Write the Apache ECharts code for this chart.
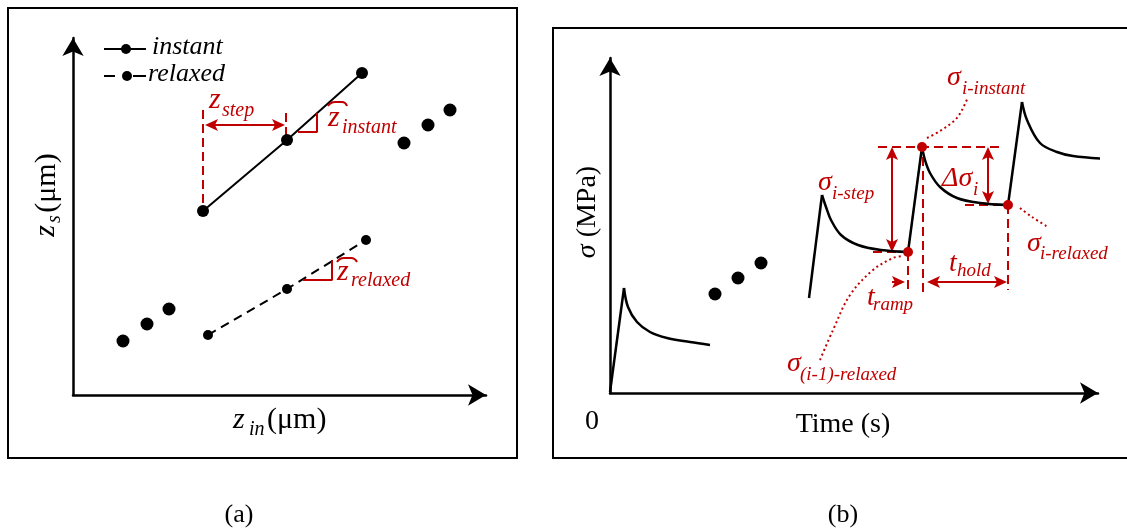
<!DOCTYPE html>
<html><head><meta charset="utf-8">
<script src="https://cdn.jsdelivr.net/npm/echarts@6/dist/echarts.min.js"></script>
<style>html,body{margin:0;padding:0;background:#fff}#c{width:1127px;height:532px}</style>
</head><body><div id="c"></div>
<script>
// ---------- Panel (a): z_s vs z_in (schematic units) ----------
const instantLine = [[130,184],[214,255],[289,322]];
const instantMore = [[331,252],[355,270],[377,285]];
const relaxedLine = [[135,60],[214,106],[293,155]];
const relaxedPrev = [[50,54],[74,71],[96,86]];
const legendInstantLine = [[31,346],[73,346]];
const legendInstantDot = [[53,346]];
const legendRelaxedLine = [[31,319],[42,319],'-',[60,319],[73,319]];
const legendRelaxedDot = [[54,319]];
const zStepGuides = [[130,285,130,184],[213,282,213,255]];
const zStepArrow = [[132,270,212,270,1,1]];
const instantAngle = [[225,263],[244,263],[244,282]];
const relaxedAngle = [[230,115],[259,115],[259,135]];
const instantArc = [[255,289],[262,293],[269,293],[274,289]];
const relaxedArc = [[264,133],[271,137],[278,137],[284,133]];

// ---------- Panel (b): stress vs time (schematic units) ----------
const curve1 = [[0,1],[14,105],[18,86],[27,71],[40,61],[57,55],[80,51],[100,48]];
const curve2 = [[199,95],[212,198],[216,186],[221,173],[231,158],[248,148],[271,143],[298,141]];
const curve3 = [[298,141],[312,246],[315,233],[320,220],[330,206],[347,195],[370,190],[398,188]];
const curve4 = [[398,188],[412,291],[417,273],[430,250],[447,241],[463,237],[497,234]];
const gapDots = [[105,99],[128,115],[151,130]];
const keyPoints = [[298,141],[312,246],[398,188]];
const guideLinesB = [[268,246,392,246],[263,141,298,141],[355,188,398,188],[298,141,298,100],[313,236,313,100],[398,188,398,103]];
const arrowsB = [[282,246,282,141,1,1],[378,246,378,189,1,1],[317,111,397,111,1,1],[282,111,295,111,0,1]];
const leaderInstant = [[317,255],[330,262],[345,273],[352,283],[358,296]];
const leaderRelaxed = [[410,185],[422,176],[438,166]];
const leaderPrev = [[210,33],[223,63],[240,98],[263,123],[283,135],[292,137]];

// ---------- Text annotations: [text, x, y, kind] ----------
const textsA = [
  ['instant',79,348,'legend'],['relaxed',75,321,'legend'],
  ['z',136,295,'zRed'],['step',149,284,'subRed'],
  ['z',255,277,'zRed'],['instant',269,267,'subRed'],
  ['z',264,123,'zRed'],['relaxed',278,114,'subRed'],
  ['z',160,-25,'axZ'],['in',176,-35,'axSub'],['(μm)',194,-25,'axUnit'],
  ['z',-27,164,'axZr'],['s',-18,176,'axSubr'],['(μm)',-26,212,'axUnitr']
];
const textsB = [
  ['0',-18,-29,'plain'],['Time (s)',233,-32,'plain'],['{i|σ} (MPa)',-22,181,'plainr'],
  ['σ',337,315,'sig'],['i-instant',352,304,'sub19'],
  ['σ',208,210,'sig'],['i-step',222,199,'sub19'],
  ['Δσ',332,214,'sig'],['i',363,203,'sub19'],
  ['σ',417,149,'sig'],['i-relaxed',430,139,'sub19'],
  ['σ',177,29,'sig'],['(i-1)-relaxed',190,18,'sub19'],
  ['t',257,95,'sig'],['ramp',263,88,'sub19'],
  ['t',339,129,'sig'],['hold',347,122,'sub19']
];

const RED = '#C00000';
const FONT = "'Liberation Serif','Times New Roman',serif";
const kinds = {
  legend:{fontSize:26,fontStyle:'italic',color:'#000',align:'left'},
  zRed:{fontSize:30,fontStyle:'italic',color:RED,align:'left'},
  subRed:{fontSize:20,fontStyle:'italic',color:RED,align:'left'},
  axZ:{fontSize:30,fontStyle:'italic',color:'#000',align:'left'},
  axSub:{fontSize:20,fontStyle:'italic',color:'#000',align:'left'},
  axUnit:{fontSize:30,fontStyle:'normal',color:'#000',align:'left'},
  axZr:{fontSize:30,fontStyle:'italic',color:'#000',align:'center',rotate:90},
  axSubr:{fontSize:20,fontStyle:'italic',color:'#000',align:'center',rotate:90},
  axUnitr:{fontSize:30,fontStyle:'normal',color:'#000',align:'center',rotate:90},
  plain:{fontSize:28,fontStyle:'normal',color:'#000',align:'center'},
  plainr:{fontSize:28,fontStyle:'normal',color:'#000',align:'center',rotate:90,
          rich:{i:{fontSize:28,fontStyle:'italic',fontFamily:"'Liberation Serif','Times New Roman',serif",color:'#000'}}},
  sig:{fontSize:28,fontStyle:'italic',color:RED,align:'left'},
  sub19:{fontSize:19,fontStyle:'italic',color:RED,align:'left'}
};

function textSeries(list, gi) {
  return {
    type:'scatter', xAxisIndex:gi, yAxisIndex:gi, clip:false, silent:true, z:10,
    symbolSize:1, itemStyle:{color:'rgba(255,255,255,0)'},
    emphasis:{disabled:true},
    data: list.map(t => ({
      value:[t[1],t[2]],
      label:Object.assign({show:true, position:'inside', formatter:t[0], fontFamily:FONT,
        verticalAlign:'middle', textBorderWidth:0, opacity:1}, kinds[t[3]])
    }))
  };
}
function segSeries(list, gi, style) {
  return {
    type:'custom', xAxisIndex:gi, yAxisIndex:gi, silent:true, clip:false,
    data:list, encode:{x:[0,2], y:[1,3]},
    renderItem:function(params, api){
      const p1 = api.coord([api.value(0), api.value(1)]);
      const p2 = api.coord([api.value(2), api.value(3)]);
      return {type:'line', shape:{x1:p1[0],y1:p1[1],x2:p2[0],y2:p2[1]}, style:Object.assign({fill:null}, style)};
    }
  };
}
function arrowSeries(list, gi) {
  return {
    type:'custom', xAxisIndex:gi, yAxisIndex:gi, silent:true, clip:false,
    data:list, encode:{x:[0,2], y:[1,3]},
    renderItem:function(params, api){
      const p1 = api.coord([api.value(0), api.value(1)]);
      const p2 = api.coord([api.value(2), api.value(3)]);
      const hs = api.value(4), he = api.value(5);
      const dx = p2[0]-p1[0], dy = p2[1]-p1[1];
      const len = Math.hypot(dx,dy) || 1;
      const ux = dx/len, uy = dy/len, px = -uy, py = ux;
      const L = 13, W = 6, N = 10;
      const head = (tip, s) => {
        const bx = tip[0]-s*ux*L, by = tip[1]-s*uy*L;
        const nx = tip[0]-s*ux*N, ny = tip[1]-s*uy*N;
        return {type:'polygon', shape:{points:[[tip[0],tip[1]],[bx+px*W,by+py*W],[nx,ny],[bx-px*W,by-py*W]]}, style:{fill:RED}};
      };
      const a = hs ? [p1[0]+ux*N, p1[1]+uy*N] : p1;
      const b = he ? [p2[0]-ux*N, p2[1]-uy*N] : p2;
      const children = [{type:'line', shape:{x1:a[0],y1:a[1],x2:b[0],y2:b[1]}, style:{stroke:RED, lineWidth:2}}];
      if (hs) children.push(head(p1,-1));
      if (he) children.push(head(p2,1));
      return {type:'group', children};
    }
  };
}
function lineSeries(data, gi, lineStyle, extra) {
  return Object.assign({
    type:'line', xAxisIndex:gi, yAxisIndex:gi, data, clip:false, silent:true,
    symbol:'none', lineStyle, animation:false, connectNulls:false
  }, extra || {});
}
function dotSeries(data, gi, size, color) {
  return {type:'scatter', xAxisIndex:gi, yAxisIndex:gi, data, clip:false, silent:true,
    symbol:'circle', symbolSize:size, itemStyle:{color, opacity:1}, z:5};
}
function axis(gi, max) {
  return {type:'value', gridIndex:gi, min:0, max,
    axisLine:{show:true, onZero:false, symbol:['none','arrow'], symbolSize:[16,18], lineStyle:{color:'#000', width:2.5}},
    axisTick:{show:false}, axisLabel:{show:false}, splitLine:{show:false}};
}
const BLK = '#000';
const smooth = {smooth:0.35};

const chart = echarts.init(document.getElementById('c'), null, {renderer:'canvas'});
chart.setOption({
  animation:false,
  backgroundColor:'#fff',
  grid:[
    {left:73, top:38, width:413, height:357, outerBoundsMode:'none'},
    {left:610, top:58, width:488, height:335, outerBoundsMode:'none'}
  ],
  xAxis:[axis(0,413), axis(1,488)],
  yAxis:[axis(0,357), axis(1,335)],
  graphic:[
    {type:'rect', shape:{x:8,y:8,width:509,height:450}, style:{fill:null, stroke:'#000', lineWidth:2}, silent:true},
    {type:'rect', shape:{x:553,y:28,width:580,height:430}, style:{fill:null, stroke:'#000', lineWidth:2}, silent:true},
    {type:'text', x:239, y:515, style:{text:'(a)', font:"26px "+FONT, fill:'#000', textAlign:'center', textVerticalAlign:'middle'}, silent:true},
    {type:'text', x:843, y:515, style:{text:'(b)', font:"26px "+FONT, fill:'#000', textAlign:'center', textVerticalAlign:'middle'}, silent:true}
  ],
  series:[
    // panel a
    lineSeries(instantLine, 0, {color:BLK, width:2}),
    dotSeries(instantLine, 0, 12, BLK),
    dotSeries(instantMore, 0, 13, BLK),
    lineSeries(relaxedLine, 0, {color:BLK, width:2, type:[9,6]}),
    dotSeries(relaxedLine, 0, 10, BLK),
    dotSeries(relaxedPrev, 0, 13, BLK),
    lineSeries(legendInstantLine, 0, {color:BLK, width:2}),
    dotSeries(legendInstantDot, 0, 10, BLK),
    lineSeries(legendRelaxedLine, 0, {color:BLK, width:2}),
    dotSeries(legendRelaxedDot, 0, 10, BLK),
    segSeries(zStepGuides, 0, {stroke:RED, lineWidth:2, lineDash:[9,5]}),
    arrowSeries(zStepArrow, 0),
    lineSeries(instantAngle, 0, {color:RED, width:2}),
    lineSeries(relaxedAngle, 0, {color:RED, width:2}),
    lineSeries(instantArc, 0, {color:RED, width:2}, {smooth:0.6}),
    lineSeries(relaxedArc, 0, {color:RED, width:2}, {smooth:0.6}),
    textSeries(textsA, 0),
    // panel b
    lineSeries(curve1.slice(0,2), 1, {color:BLK, width:2.5}),
    lineSeries(curve1.slice(1), 1, {color:BLK, width:2.5}, smooth),
    lineSeries(curve2.slice(0,2), 1, {color:BLK, width:2.5}),
    lineSeries(curve2.slice(1), 1, {color:BLK, width:2.5}, smooth),
    lineSeries(curve3.slice(0,2), 1, {color:BLK, width:2.5}),
    lineSeries(curve3.slice(1), 1, {color:BLK, width:2.5}, smooth),
    lineSeries(curve4.slice(0,2), 1, {color:BLK, width:2.5}),
    lineSeries(curve4.slice(1), 1, {color:BLK, width:2.5}, smooth),
    dotSeries(gapDots, 1, 13, BLK),
    segSeries(guideLinesB, 1, {stroke:RED, lineWidth:2, lineDash:[9,5]}),
    arrowSeries(arrowsB, 1),
    lineSeries(leaderInstant, 1, {color:RED, width:2, type:[2,3]}, smooth),
    lineSeries(leaderRelaxed, 1, {color:RED, width:2, type:[2,3]}, smooth),
    lineSeries(leaderPrev, 1, {color:RED, width:2, type:[2,3]}, smooth),
    dotSeries(keyPoints, 1, 10, RED),
    textSeries(textsB, 1)
  ]
});
</script></body></html>
